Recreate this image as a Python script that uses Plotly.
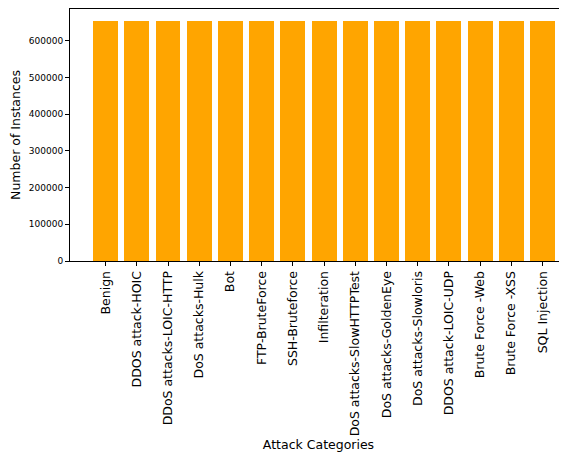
import plotly.graph_objects as go

categories = ["Benign", "DDOS attack-HOIC", "DDoS attacks-LOIC-HTTP", "DoS attacks-Hulk",
              "Bot", "FTP-BruteForce", "SSH-Bruteforce", "Infilteration",
              "DoS attacks-SlowHTTPTest", "DoS attacks-GoldenEye", "DoS attacks-Slowloris",
              "DDOS attack-LOIC-UDP", "Brute Force -Web", "Brute Force -XSS", "SQL Injection"]
counts = [654300] * 15
y_ticks = [0, 100000, 200000, 300000, 400000, 500000, 600000]

fig = go.Figure(go.Bar(x=list(range(len(categories))), y=counts, marker_color="#FFA500",
                       marker_line_width=0, width=0.8))

font = "DejaVu Sans"
fig.update_layout(
    width=559, height=449,
    margin=dict(l=62, r=0, t=1, b=196),
    plot_bgcolor="white", paper_bgcolor="white",
    font=dict(family=font, color="black"),
    showlegend=False,
    bargap=0,
)
fig.update_xaxes(
    tickmode="array", tickvals=list(range(len(categories))), ticktext=categories,
    tickangle=-90, tickfont=dict(size=12.5, family=font),
    range=[-1.14, 14.785], automargin=False,
    showline=True, linecolor="black", linewidth=1, mirror=True,
    ticks="outside", ticklen=4, tickcolor="black",
    showgrid=False, zeroline=False,
    title=dict(text="Attack Categories", font=dict(size=12.5, family=font), standoff=4),
)
fig.update_yaxes(
    tickmode="array", tickvals=y_ticks, ticktext=[str(v) for v in y_ticks],
    tickfont=dict(size=9, family=font),
    range=[0, 654300 * 1.05], automargin=False,
    showline=True, linecolor="black", linewidth=1,
    ticks="outside", ticklen=4, tickcolor="black",
    showgrid=False, zeroline=False,
    title=dict(text="Number of Instances", font=dict(size=12.5, family=font), standoff=6),
)
fig.write_html("out.html")
